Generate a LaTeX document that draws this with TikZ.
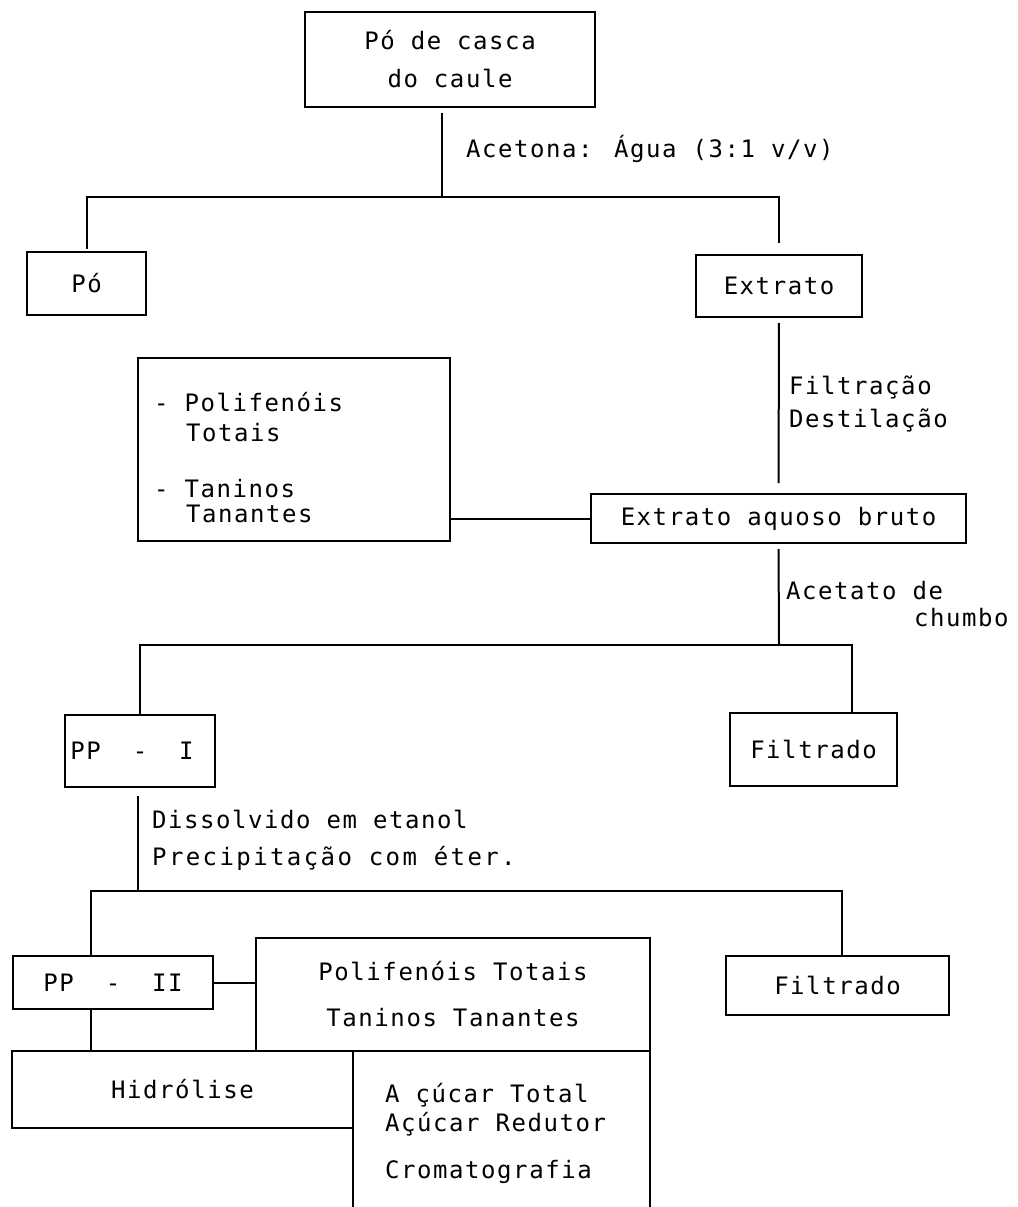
\documentclass[tikz,border=0pt]{standalone}
\usepackage{fontspec}
\newfontfamily\tw[LetterSpace=6.5]{DejaVu Sans Mono}
\newfontfamily\twwide[LetterSpace=10]{DejaVu Sans Mono}
\begin{document}
\begin{tikzpicture}[x=1pt,y=-1pt,
  box/.style={draw, line width=2pt, inner sep=0pt, font=\tw\fontsize{24}{30}\selectfont, align=center},
  txt/.style={inner sep=0pt, font=\tw\fontsize{24}{30}\selectfont, anchor=base west},
  ln/.style={line width=2pt}]
\useasboundingbox (0,0) rectangle (1017,1207);

% boxes
\node[box, minimum width=290pt, minimum height=95pt, font=\tw\fontsize{24}{38}\selectfont] (top) at (450,59.5) {Pó de casca\\do caule};
\node[box, minimum width=119pt, minimum height=63pt] (po) at (86.5,283.5) {Pó};
\node[box, minimum width=166pt, minimum height=62pt] (ext) at (779,286) {Extrato};
\node[box, minimum width=312pt, minimum height=183pt] (pol) at (294,449.5) {};
\node[box, minimum width=375pt, minimum height=49pt] (eab) at (778.5,518.5) {Extrato aquoso bruto};
\node[box, minimum width=150pt, minimum height=72pt] (pp1) at (140,751) {PP~~-~~I\hspace{16pt}};
\node[box, minimum width=167pt, minimum height=73pt] (f1) at (813.5,749.5) {Filtrado};
\node[box, minimum width=200pt, minimum height=53pt] (pp2) at (113,982.5) {PP~~-~~II};
\node[box, minimum width=223pt, minimum height=59pt] (f2) at (837.5,985.5) {Filtrado};
\node[box, minimum width=394pt, minimum height=113pt, font=\tw\fontsize{24}{46}\selectfont] (pt2) at (453,994.5) {Polifenóis Totais\\Taninos Tanantes};
\node[box, minimum width=341pt, minimum height=77pt] (hid) at (182.5,1089.5) {Hidrólise};
\node[inner sep=0pt, minimum width=297pt, minimum height=156pt] (acu) at (501.5,1129) {};
\draw[ln] (acu.south west) -- (acu.north west) -- (acu.north east) -- (acu.south east);

% texts inside boxes
\node[txt] (pol1) at (154,411) {- Polifenóis};
\node[txt] (pol2) at (186,441) {Totais};
\node[txt] (pol3) at (154,497) {- Taninos};
\node[txt] (pol4) at (186,522) {Tanantes};
\node[txt] (a1) at (385,1102) {A çúcar Total};
\node[txt] (a2) at (385,1131) {Açúcar Redutor};
\node[txt] (a3) at (385,1178) {Cromatografia};

% labels
\node[txt] (acet) at (466,157) {Acetona: Água (3:1 v/v)};
\node[txt] (filt) at (789,394) {Filtração};
\node[txt] (dest) at (789,427) {Destilação};
\node[txt] (ac1) at (786,599) {Acetato de};
\node[txt] (ac2) at (914,626) {chumbo};
\node[txt] (dis) at (152,828) {Dissolvido em etanol};
\node[txt, font=\twwide\fontsize{24}{30}\selectfont] (pre) at (152,865) {Precipitação com éter.};

% connectors
\coordinate (s1) at (442,197);
\draw[ln, shorten <=5pt] ([xshift=-8pt]top.south) -- (s1);
\draw[ln, shorten <=2pt, shorten >=11pt] (po.north) -- (po.north |- s1) -- (ext.north |- s1) -- (ext.north);
\draw[ln, shorten <=5pt, shorten >=10pt] (ext.south) -- (eab.north);
\draw[ln] (pol.east |- eab.west) -- (eab.west);

\coordinate (s2) at (779,645);
\coordinate (c1) at ([xshift=38.5pt]f1.north);
\draw[ln, shorten <=5pt] (eab.south) -- (s2);
\draw[ln] (pp1.north) -- (pp1.north |- s2) -| (c1);

\coordinate (s3) at (138,891);
\coordinate (c2) at ([xshift=4.5pt]f2.north);
\draw[ln, shorten <=8pt] ([xshift=-2pt]pp1.south) -- (s3);
\draw[ln] ([xshift=-22pt]pp2.north) -- ([xshift=-22pt]pp2.north |- s3) -| (c2);
\draw[ln] (pp2.east) -- (pp2.east -| pt2.west);
\draw[ln] ([xshift=-22pt]pp2.south) -- ([xshift=-22pt]pp2.south |- hid.north);
\end{tikzpicture}
\end{document}
